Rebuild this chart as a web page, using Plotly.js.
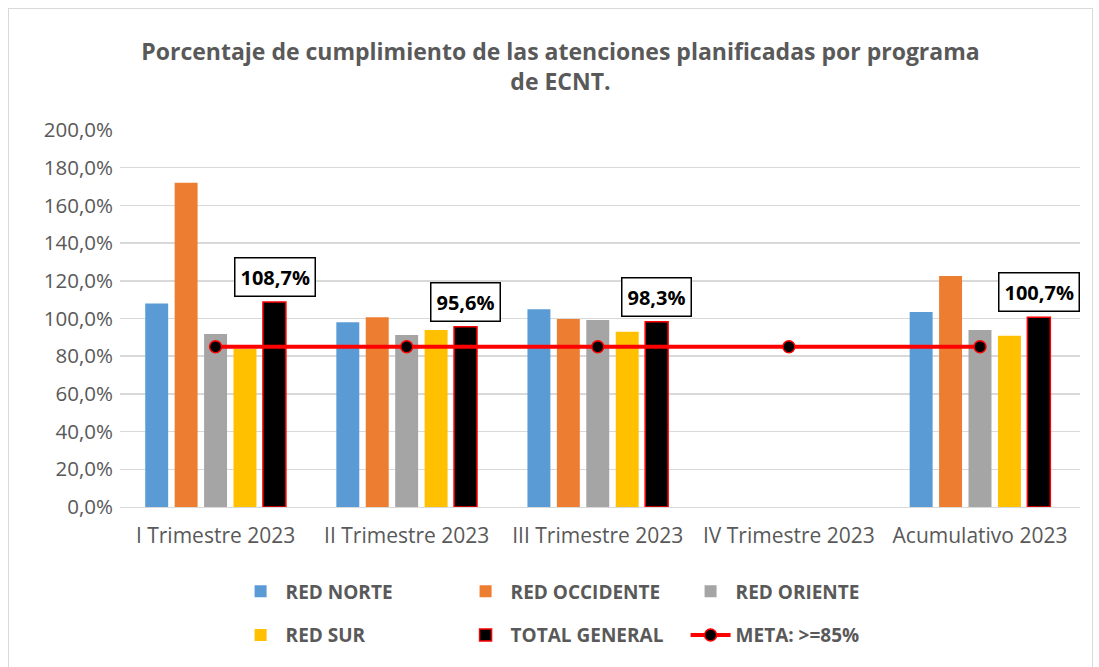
<!DOCTYPE html>
<html>
<head>
<meta charset="utf-8">
<script src="https://cdn.plot.ly/plotly-3.0.1.min.js"></script>
<style>
html,body{margin:0;padding:0;background:#fff;overflow:hidden;}
#wrap{position:relative;width:1099px;height:667px;overflow:hidden;}
#chart{position:absolute;left:0;top:0;width:1099px;height:667px;}
#frame{position:absolute;left:8px;top:8px;width:1083px;height:700px;border:1px solid #d9d9d9;pointer-events:none;}
</style>
</head>
<body>
<div id="wrap"><div id="chart"></div><div id="frame"></div></div>
<script>
var categories = ["I Trimestre 2023", "II Trimestre 2023", "III Trimestre 2023", "IV Trimestre 2023", "Acumulativo 2023"];
var redNorte = [107.9, 98.0, 104.9, null, 103.4];
var redOccidente = [172.0, 100.6, 99.7, null, 122.6];
var redOriente = [91.8, 91.2, 99.2, null, 93.9];
var redSur = [84.0, 93.9, 93.0, null, 90.9];
var totalGeneral = [108.7, 95.6, 98.3, null, 100.7];
var meta = [85, 85, 85, 85, 85];
var yTicks = [0, 20, 40, 60, 80, 100, 120, 140, 160, 180, 200];
var yTickLabels = ["0,0%", "20,0%", "40,0%", "60,0%", "80,0%", "100,0%", "120,0%", "140,0%", "160,0%", "180,0%", "200,0%"];

var grey = "#595959";
var fontFam = "'Open Sans', Lato, sans-serif";

var traces = [
  {type:"bar", name:"RED NORTE", x:categories, y:redNorte, marker:{color:"#5B9BD5"}, legend:"legend"},
  {type:"bar", name:"RED OCCIDENTE", x:categories, y:redOccidente, marker:{color:"#ED7D31"}, legend:"legend"},
  {type:"bar", name:"RED ORIENTE", x:categories, y:redOriente, marker:{color:"#A5A5A5"}, legend:"legend"},
  {type:"bar", name:"RED SUR", x:categories, y:redSur, marker:{color:"#FFC000"}, legend:"legend2"},
  {type:"bar", name:"TOTAL GENERAL", x:categories, y:totalGeneral, marker:{color:"#000000", line:{color:"#FF0000", width:1.5}}, legend:"legend2"},
  {type:"scatter", mode:"lines+markers", name:"META: >=85%", x:categories, y:meta, legend:"legend2",
   line:{color:"#FF0000", width:4}, marker:{color:"#000000", size:12, line:{color:"#FF0000", width:1.5}}}
];

var annotations = [];
categories.forEach(function(c, i){
  if (totalGeneral[i] == null) return;
  annotations.push({
    x:c, y:totalGeneral[i], xref:"x", yref:"y",
    text:"<b>" + totalGeneral[i].toFixed(1).replace(".", ",") + "%</b>",
    showarrow:false, xanchor:"center", yanchor:"bottom", xshift:59, yshift:5,
    bgcolor:"#ffffff", bordercolor:"#000000", borderwidth:1.5, borderpad:5,
    font:{family:fontFam, size:20, color:"#000000"}
  });
});

var legendBase = {orientation:"h", xanchor:"left", yanchor:"middle",
  entrywidth:170, entrywidthmode:"pixels", itemwidth:40, tracegroupgap:0,
  bgcolor:"rgba(0,0,0,0)",
  font:{family:fontFam, size:19, color:grey, weight:"bold"}};

var layout = {
  width:1099, height:667,
  margin:{l:120, r:19, t:130, b:160},
  paper_bgcolor:"#ffffff", plot_bgcolor:"#ffffff",
  separators:",.",
  title:{text:"<b>Porcentaje de cumplimiento de las atenciones planificadas por programa<br>de ECNT.</b>",
    x:0.51, xanchor:"center", y:0.91, yanchor:"top",
    font:{family:fontFam, size:23, color:grey}},
  barmode:"group", bargap:0.23, bargroupgap:0.22,
  xaxis:{type:"category", showgrid:false, showline:true, linecolor:"#d9d9d9", linewidth:1,
    ticks:"", ticklabelstandoff:10, tickfont:{family:fontFam, size:21, color:grey}},
  yaxis:{range:[0,200], tickvals:yTicks, ticktext:yTickLabels,
    showgrid:true, gridcolor:"#d9d9d9", gridwidth:1.5, zeroline:false, showline:false,
    ticklabelstandoff:6, tickfont:{family:fontFam, size:20.5, color:grey}},
  legend:Object.assign({}, legendBase, {x:0.1204, y:-0.224}),
  legend2:Object.assign({}, legendBase, {x:0.1204, y:-0.34}),
  annotations:annotations,
  showlegend:true
};

Plotly.newPlot("chart", traces, layout, {displayModeBar:false, staticPlot:true});
</script>
</body>
</html>
